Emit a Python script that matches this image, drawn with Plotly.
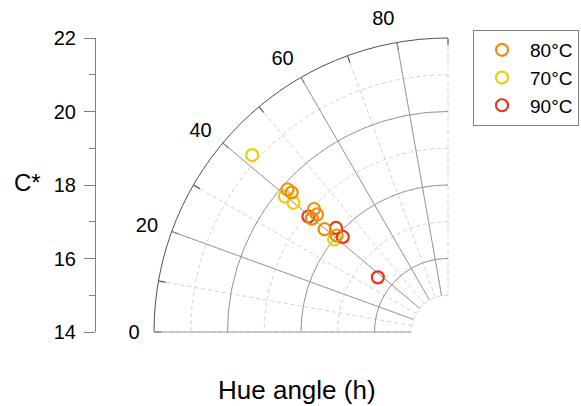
import plotly.graph_objects as go

# ---- data ----
series_names = ["80°C", "70°C", "90°C"]
series_colors = ["#F08C0A", "#EDCD0C", "#E8361A"]

hue_80 = [41.6, 41.75, 42.55, 41.9, 39.8, 39.8, 40.9]
c_80 = [19.84, 19.70, 18.95, 18.79, 18.82, 18.37, 18.01]

hue_70 = [42.1, 39.7, 39.9, 39.06]
c_70 = [21.18, 19.77, 19.48, 17.99]

hue_90 = [39.6, 42.9, 42.1, 37.9]
c_90 = [18.93, 18.16, 17.86, 16.42]

angle_ticks = [0, 20, 40, 60, 80]
angle_minor = [0, 10, 20, 30, 40, 50, 60, 70, 80, 90]
radial_major = [16, 18, 20]
radial_minor = [16, 17, 18, 19, 20, 21]
radial_outer = [22]
radial_inner = [15]
c_ticks = [14, 16, 18, 20, 22]
c_minor = [15, 17, 19, 21]

W, H = 581, 406
FONT = "Arial, Liberation Sans, sans-serif"

# layout geometry (pixels)
cx, cy, R = 448, 332, 294
r_range = [15, 22]
hole = 1 / 8
sector = [90, 180]  # screen-space: data 0 deg at west, 90 deg at north
px_per_unit = R * (1 - hole) / (r_range[1] - r_range[0])


def dom(radius):
    return dict(x=[(cx - radius) / W, cx / W], y=[1 - cy / H, 1 - (cy - radius) / H])


def ang(vals):
    # plotly reports this sector's angular range as [-360, -270]
    return [v - 360 for v in vals]


# edge layers: same centre and scale, but ranges extended so the
# edge arcs (15 and 22) are interior values that plotly will draw
ext = 10  # px
R_out = R + ext
out_range = [r_range[0], r_range[1] + ext / px_per_unit]
out_hole = R * hole / R_out
in_range = [r_range[0] - ext / px_per_unit, r_range[1]]
in_hole = (R * hole - ext) / R

fig = go.Figure()

# empty traces so the grid-only polar layers are drawn
for sp in ["polar", "polar2", "polar4"]:
    fig.add_trace(go.Scatterpolar(theta=[], r=[], mode="markers", subplot=sp,
                                  showlegend=False, hoverinfo="skip"))

# draw order: yellow, red, orange (orange on top); legend order 80,70,90
order = [(1, hue_70, c_70), (2, hue_90, c_90), (0, hue_80, c_80)]
for idx, th, r in order:
    fig.add_trace(go.Scatterpolar(
        theta=th, r=r, mode="markers", name=series_names[idx],
        legendrank=idx + 1,
        marker=dict(symbol="circle-open", size=12, color=series_colors[idx],
                    line=dict(width=2.2, color=series_colors[idx])),
        subplot="polar3",
    ))

# helper trace so the left C* axis is drawn
fig.add_trace(go.Scatter(x=[0, 0], y=[c_ticks[0], c_ticks[-1]], mode="markers",
                         marker=dict(opacity=0), showlegend=False,
                         hoverinfo="skip", xaxis="x", yaxis="y"))

DASH = "4px,3px"
LIGHT = "#d2d2d2"
bg = "rgba(0,0,0,0)"
no_ang = dict(rotation=180, direction="clockwise", showgrid=False,
              showticklabels=False, ticks="", showline=False)

fig.update_layout(
    width=W, height=H,
    margin=dict(l=0, r=0, t=0, b=0, autoexpand=False),
    paper_bgcolor="white", plot_bgcolor=bg,
    font=dict(family=FONT, size=20, color="black"),
    showlegend=True,
    legend=dict(x=473 / W, y=1 - 30 / H, xanchor="left", yanchor="top",
                bordercolor="#808080", borderwidth=1, bgcolor="white",
                itemwidth=46,
                font=dict(size=19, family=FONT), traceorder="normal"),
    # dashed minor grid + small inside ticks
    polar=dict(
        domain=dom(R), sector=sector, hole=hole, bgcolor=bg,
        radialaxis=dict(range=r_range, tickvals=radial_minor, showticklabels=False,
                        ticks="", showline=False, gridcolor=LIGHT,
                        griddash=DASH, gridwidth=1),
        angularaxis=dict(rotation=180, direction="clockwise", tickvals=ang(angle_minor),
                         showticklabels=False, ticks="inside", ticklen=7,
                         tickcolor="#404040", showline=False,
                         gridcolor=LIGHT, griddash=DASH, gridwidth=1),
    ),
    # outer arc (C* = 22)
    polar2=dict(
        domain=dom(R_out), sector=sector, hole=out_hole, bgcolor=bg,
        radialaxis=dict(range=out_range, tickvals=radial_outer,
                        showticklabels=False, ticks="", showline=False,
                        gridcolor="#505050", gridwidth=1),
        angularaxis=no_ang,
    ),
    # solid major grid + labels + data
    polar3=dict(
        domain=dom(R), sector=sector, hole=hole, bgcolor=bg,
        radialaxis=dict(range=r_range, tickvals=radial_major, showticklabels=False,
                        ticks="", showline=False, gridcolor="#9a9a9a", gridwidth=1),
        angularaxis=dict(rotation=180, direction="clockwise", tickvals=ang(angle_ticks),
                         ticktext=[str(a) for a in angle_ticks],
                         tickfont=dict(size=20, family=FONT, color="black"),
                         ticks="outside", ticklen=10, tickcolor="rgba(0,0,0,0)",
                         showline=False, gridcolor="#9a9a9a", gridwidth=1),
    ),
    # dashed inner (hole) arc (C* = 15)
    polar4=dict(
        domain=dom(R), sector=sector, hole=in_hole, bgcolor=bg,
        radialaxis=dict(range=in_range, tickvals=radial_inner,
                        showticklabels=False, ticks="", showline=False,
                        gridcolor=LIGHT, griddash=DASH, gridwidth=1),
        angularaxis=no_ang,
    ),
    xaxis=dict(domain=[0.0, 0.01], visible=False, range=[0, 1]),
    yaxis=dict(domain=dom(R)["y"], anchor="free", position=95 / W, side="left",
               range=[c_ticks[0], c_ticks[-1]], tickvals=c_ticks,
               ticks="outside", ticklen=11, tickcolor="#808080", tickwidth=1,
               ticklabelstandoff=4,
               showline=True, linecolor="#808080", linewidth=1,
               showgrid=False, zeroline=False,
               tickfont=dict(size=20, family=FONT, color="black"),
               minor=dict(tickvals=c_minor, ticks="outside", ticklen=6,
                          tickcolor="#808080", showgrid=False)),
    annotations=[
        dict(text="C*", x=27 / W, y=1 - 182 / H, xref="paper", yref="paper",
             showarrow=False, font=dict(size=24, family=FONT, color="black"),
             xanchor="center", yanchor="middle"),
        dict(text="Hue angle (h)", x=297 / W, y=1 - 390 / H, xref="paper",
             yref="paper", showarrow=False,
             font=dict(size=26, family=FONT, color="black"),
             xanchor="center", yanchor="middle"),
    ],
)

fig.write_html("out.html")
